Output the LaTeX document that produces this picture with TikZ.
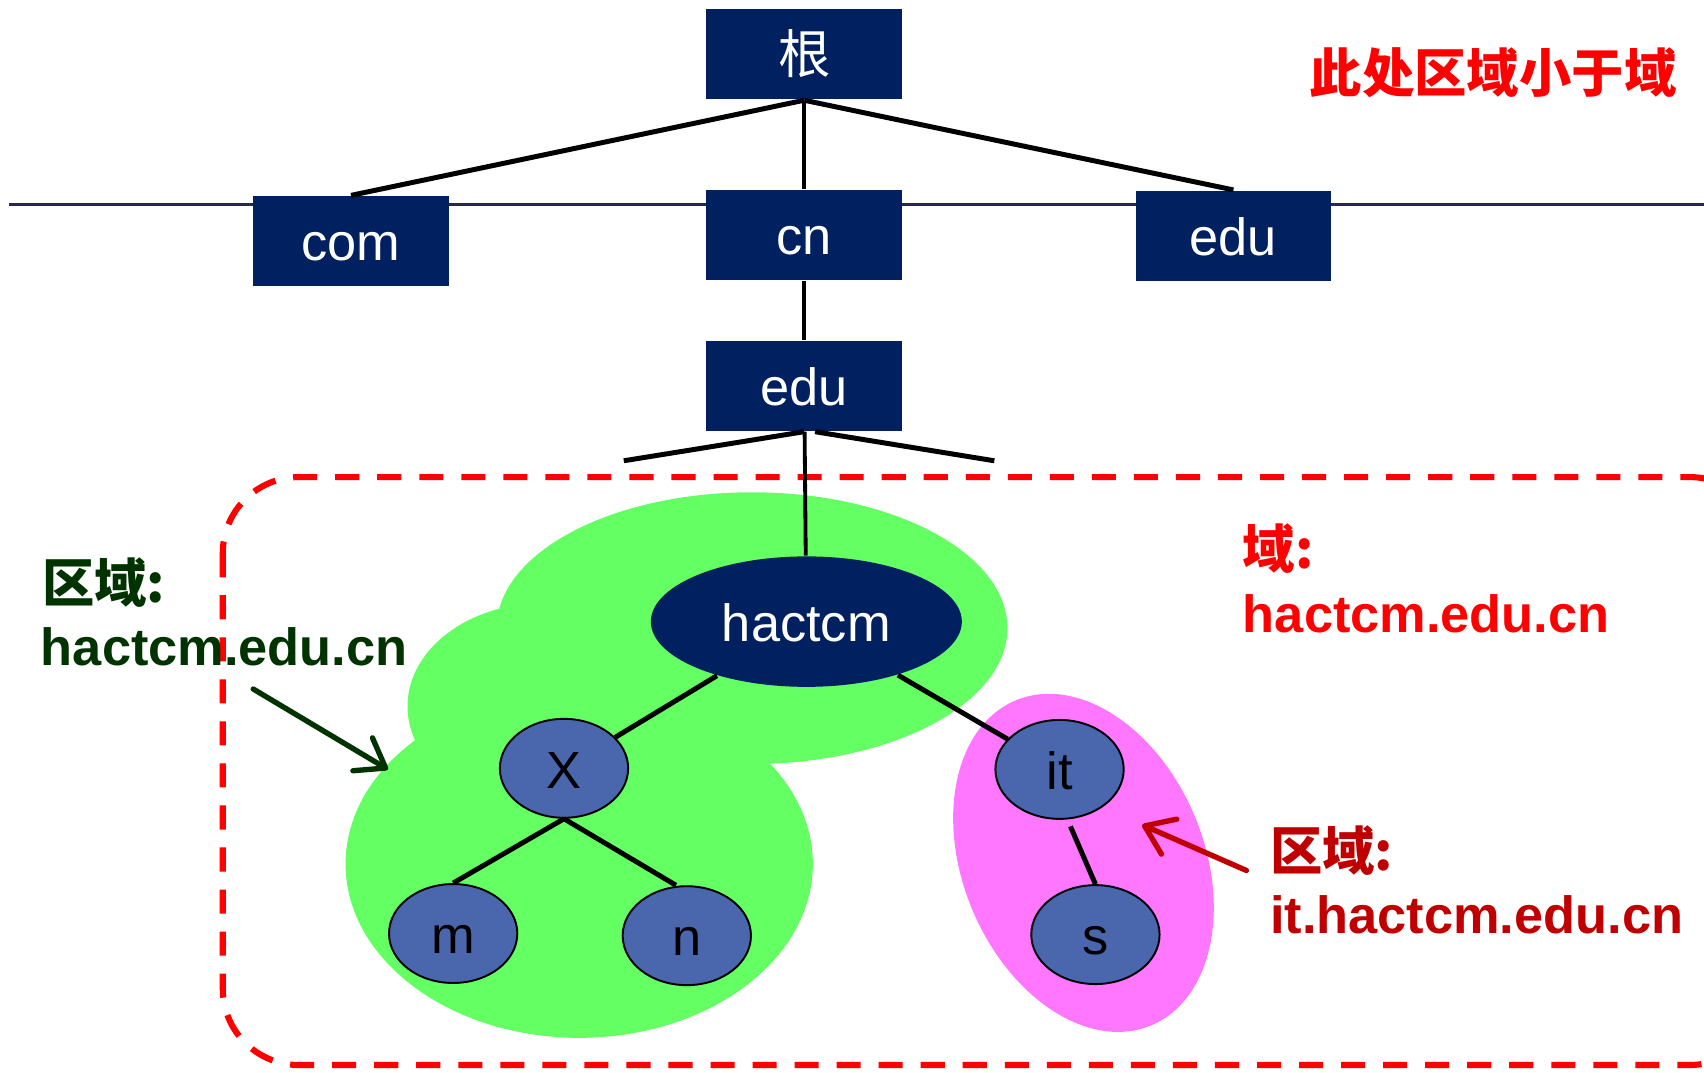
\documentclass[tikz,border=0pt]{standalone}
\usepackage{fontspec}
\setmainfont{Liberation Sans}
\newfontfamily\cjk{Noto Sans CJK SC}
\usetikzlibrary{shapes.geometric,arrows.meta}
\definecolor{navy}{RGB}{0,32,96}
\definecolor{nodeblue}{RGB}{74,102,172}
\definecolor{zonegreen}{RGB}{99,255,99}
\definecolor{zonepink}{RGB}{255,119,255}
\definecolor{darkgreen}{RGB}{0,51,0}
\definecolor{darkred}{RGB}{192,0,0}
\definecolor{levelline}{RGB}{38,38,88}

\begin{document}
\begin{tikzpicture}[x=0.01cm, y=-0.01cm,
		font=\fontsize{13.7pt}{16pt}\selectfont,
		box/.style={fill=navy, text=white, minimum width=1.8cm, minimum height=0.83cm, inner sep=0pt, text height=10.2pt, text depth=0pt},
		leaf/.style={draw, ellipse, fill=nodeblue, line width=0.5pt, minimum width=1.18cm, minimum height=0.91cm, inner sep=0pt, text height=10.6pt, text depth=0pt},
		branch/.style={line width=1.3pt},
		stem/.style={line width=1pt},
		tag/.style={anchor=west, inner sep=0pt, font=\fontsize{13.7pt}{16pt}\selectfont\bfseries},
		pointer/.style={line width=1.4pt, line cap=round, -{Straight Barb[length=7pt, width=10pt, round]}}
	]
		\useasboundingbox (0,0) rectangle (1568,987);

		% zones
		\fill[zonegreen] (692,578) ellipse [x radius=235, y radius=125];
		\fill[zonegreen] (500,650) ellipse [x radius=125, y radius=95];
		\fill[zonegreen] (533,795) ellipse [x radius=215, y radius=160];
		\fill[zonepink, rotate around={22.6:(997,794)}] (997,794) ellipse [x radius=111, y radius=162];
		\draw[red, line width=1.6pt, dash pattern=on 6.3pt off 4.7pt, rounded corners=0.7cm] (205,439) rectangle (1625,980);

		% top levels
		\coordinate (lineL) at (8,188);
		\coordinate (lineR) at (1568,188);
		\draw[levelline, line width=0.8pt] (lineL) -- (lineR);

		\node[box] (root) at (740,50) {\cjk 根};
		\node[box] (com) at (323,222) {com};
		\node[box] (cn) at (740,216) {cn};
		\node[box] (edu) at (1135,217) {edu};
		\node[box] (educn) at (740,355) {edu};

		\draw[branch] (root.south) -- (com.north);
		\draw[branch] (root.south) -- (edu.north);
		\draw[stem] (root) -- (cn);
		\draw[stem] (cn) -- (educn);

		\coordinate (cutL) at (574,424);
		\coordinate (cutR) at (915,424);
		\draw[branch] (educn.south) -- (cutL);
		\draw[branch] ([xshift=0.1cm]educn.south) -- (cutR);

		% hactcm subtree
		\node[ellipse, fill=navy, text=white, minimum width=2.86cm, minimum height=1.2cm, inner sep=0pt, text height=10.2pt, text depth=0pt] (hactcm) at (742,572) {hactcm};
		\node[leaf] (x) at (519,707) {X};
		\node[leaf] (m) at (417,859) {m};
		\node[leaf] (n) at (632,861) {n};
		\node[leaf] (it) at (975,708) {it};
		\node[leaf] (s) at (1008,860) {s};

		\draw[stem] (educn) -- (hactcm);
		\draw[branch] (hactcm) -- (x);
		\draw[branch] (hactcm) -- (it);
		\draw[branch] (x.south) -- (m.north);
		\draw[branch] (x.south) -- ([xshift=-0.1cm]n.north);
		\draw[branch] ([xshift=0.1cm, yshift=-0.06cm]it.south) -- (s.north);

		% labels
		\node[tag, text=red, anchor=center] (note) at (1374,67) {\cjk\bfseries 此处区域小于域};
		\node[tag, text=darkgreen] (zoneA) at (38,536) {\cjk\bfseries 区域:};
		\node[tag, text=darkgreen] (zoneAname) at (37,595) {hactcm.edu.cn};
		\node[tag, text=red] (domain) at (1143,505) {\cjk\bfseries 域:};
		\node[tag, text=red] (domainname) at (1143,565) {hactcm.edu.cn};
		\node[tag, text=darkred] (zoneB) at (1168,783) {\cjk\bfseries 区域:};
		\node[tag, text=darkred] (zoneBname) at (1168,842) {it.hactcm.edu.cn};

		\coordinate (gtail) at (233,634);
		\coordinate (gtip) at (357,708);
		\coordinate (rtail) at (1147,801);
		\coordinate (rtip) at (1051,759);
		\draw[pointer, darkgreen] (gtail) -- (gtip);
		\draw[pointer, darkred] (rtail) -- (rtip);
	\end{tikzpicture}
\end{document}
